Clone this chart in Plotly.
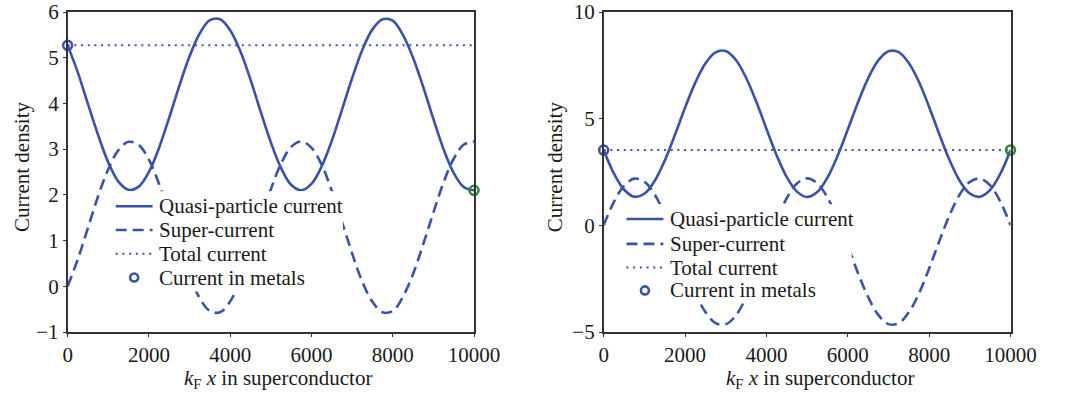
import plotly.graph_objects as go

# ---------------- data ----------------
x_pos = [0, 250, 500, 750, 1000, 1250, 1500, 1750, 2000, 2250, 2500, 2750, 3000,
         3250, 3500, 3750, 4000, 4250, 4500, 4750, 5000, 5250, 5500, 5750, 6000,
         6250, 6500, 6750, 7000, 7250, 7500, 7750, 8000, 8250, 8500, 8750, 9000,
         9250, 9500, 9750, 10000]

# left panel
quasi_left = [5.27, 4.68, 3.99, 3.31, 2.71, 2.29, 2.11, 2.18, 2.50, 3.03, 3.69,
              4.39, 5.03, 5.53, 5.82, 5.84, 5.60, 5.14, 4.52, 3.82, 3.15, 2.59,
              2.22, 2.10, 2.24, 2.62, 3.18, 3.86, 4.55, 5.17, 5.62, 5.84, 5.81,
              5.50, 5.00, 4.36, 3.66, 3.00, 2.48, 2.17, 2.10]
super_left = [0.00, 0.59, 1.28, 1.97, 2.56, 2.98, 3.16, 3.09, 2.77, 2.24, 1.58,
              0.88, 0.24, -0.26, -0.54, -0.57, -0.33, 0.13, 0.75, 1.45, 2.12,
              2.68, 3.05, 3.17, 3.03, 2.66, 2.09, 1.41, 0.72, 0.10, -0.34, -0.57,
              -0.54, -0.23, 0.27, 0.92, 1.61, 2.27, 2.79, 3.10, 3.17]
total_left = [5.27, 5.27]
metal_left = [5.27, 2.10]

# right panel
quasi_right = [3.53, 2.44, 1.68, 1.34, 1.48, 2.07, 3.03, 4.23, 5.51, 6.68, 7.59,
               8.11, 8.17, 7.75, 6.92, 5.80, 4.53, 3.29, 2.26, 1.58, 1.33, 1.56,
               2.24, 3.26, 4.49, 5.76, 6.89, 7.73, 8.16, 8.12, 7.61, 6.72, 5.55,
               4.27, 3.06, 2.09, 1.49, 1.34, 1.66, 2.42, 3.53]
super_right = [0.00, 1.09, 1.85, 2.19, 2.05, 1.46, 0.50, -0.70, -1.98, -3.15,
               -4.06, -4.58, -4.64, -4.22, -3.39, -2.27, -1.00, 0.24, 1.27, 1.96,
               2.20, 1.97, 1.30, 0.27, -0.96, -2.23, -3.36, -4.20, -4.63, -4.59,
               -4.08, -3.19, -2.02, -0.74, 0.47, 1.44, 2.04, 2.19, 1.87, 1.11, 0.00]
total_right = [3.53, 3.53]
metal_right = [3.53, 3.53]

total_x = [0, 10000]
metal_x = [0, 10000]

x_ticks = [0, 2000, 4000, 6000, 8000, 10000]
x_tick_text = ["0", "2000", "4000", "6000", "8000", "10000"]
y_ticks_left = [-1, 0, 1, 2, 3, 4, 5, 6]
y_ticks_right = [-5, 0, 5, 10]

names = ["Quasi-particle current", "Super-current", "Total current", "Current in metals"]
y_title = "Current density"
x_title = "<i>k</i><sub>F</sub> <i>x</i> in superconductor"

# ---------------- style ----------------
BLUE = "#3953a6"
GREEN = "#2f8a33"
FONT = "Liberation Serif"
FS = 21
TXT = "#1a1a1a"
AXC = "#333333"
W, H = 1071, 397
PT, PB = 9, 332          # plot area top / bottom (px)


def px_x(p):
    return p / W


def px_y(p):
    return (PB - p) / (PB - PT)


fig = go.Figure()

panels = [
    ("x", "y", quasi_left, super_left, total_left, metal_left),
    ("x2", "y2", quasi_right, super_right, total_right, metal_right),
]
for xa, ya, q, s, t, m in panels:
    fig.add_trace(go.Scatter(x=x_pos, y=q, mode="lines", name=names[0], xaxis=xa, yaxis=ya,
                             showlegend=False,
                             line=dict(color=BLUE, width=2.6, shape="spline")))
    fig.add_trace(go.Scatter(x=x_pos, y=s, mode="lines", name=names[1], xaxis=xa, yaxis=ya,
                             showlegend=False,
                             line=dict(color=BLUE, width=2.6, dash="11px,6px", shape="spline")))
    fig.add_trace(go.Scatter(x=total_x, y=t, mode="lines", name=names[2], xaxis=xa, yaxis=ya,
                             showlegend=False,
                             line=dict(color=BLUE, width=2, dash="2px,4.7px")))
    fig.add_trace(go.Scatter(x=metal_x, y=m, mode="markers", name=names[3], xaxis=xa, yaxis=ya,
                             showlegend=False, cliponaxis=False,
                             marker=dict(symbol="circle-open", size=9, color=[BLUE, GREEN],
                                         line=dict(width=2.6))))

axis_common = dict(
    showline=True, linecolor=AXC, linewidth=1.6, mirror=True,
    showgrid=False, zeroline=False, ticks="outside", ticklen=3, tickcolor=AXC,
    ticklabeloverflow="allow",
    tickfont=dict(family=FONT, size=FS, color=TXT),
)

shapes = []
annotations = []

# legends drawn per panel: white box, sample glyphs and labels
legend_boxes = [
    dict(box=(108, 190, 348, 291), rows=[205, 229, 253, 277], line=(114, 152), text_x=157),
    dict(box=(635, 203, 872, 303), rows=[218, 243, 267, 290], line=(640, 678), text_x=683),
]
line_dashes = ["solid", "11px,6px", "2px,4.7px"]
line_widths = [2.6, 2.6, 2]
for lg in legend_boxes:
    bx0, by0, bx1, by1 = lg["box"]
    shapes.append(dict(type="rect", xref="paper", yref="paper", layer="above",
                       x0=px_x(bx0), x1=px_x(bx1), y0=px_y(by1), y1=px_y(by0),
                       fillcolor="white", line=dict(width=0)))
    lx0, lx1 = lg["line"]
    for i in range(3):
        yy = px_y(lg["rows"][i])
        shapes.append(dict(type="line", xref="paper", yref="paper", layer="above",
                           x0=px_x(lx0), x1=px_x(lx1), y0=yy, y1=yy,
                           line=dict(color=BLUE, width=line_widths[i], dash=line_dashes[i])))
    shapes.append(dict(type="circle", xref="paper", yref="paper", layer="above",
                       xsizemode="pixel", ysizemode="pixel",
                       xanchor=px_x((lx0 + lx1) / 2), yanchor=px_y(lg["rows"][3]),
                       x0=-4, x1=4, y0=-4, y1=4,
                       line=dict(color=BLUE, width=2.6)))
    for i, nm in enumerate(names):
        annotations.append(dict(text=nm, xref="paper", yref="paper", showarrow=False,
                                x=px_x(lg["text_x"]), y=px_y(lg["rows"][i]),
                                xanchor="left", yanchor="middle",
                                font=dict(family=FONT, size=FS, color=TXT)))

# axis titles
for cx in (17, 566):
    annotations.append(dict(text=y_title, xref="paper", yref="paper", showarrow=False,
                            x=px_x(cx), y=px_y(165), xanchor="center", yanchor="middle",
                            textangle=-90, font=dict(family=FONT, size=FS, color=TXT)))
for cx in (281, 839):
    annotations.append(dict(text=x_title, xref="paper", yref="paper", showarrow=False,
                            x=px_x(cx), y=px_y(379), xanchor="center", yanchor="middle",
                            font=dict(family=FONT, size=FS, color=TXT)))

fig.update_layout(
    width=W, height=H,
    margin=dict(l=0, r=0, t=PT, b=H - PB),
    paper_bgcolor="white", plot_bgcolor="white",
    font=dict(family=FONT, size=FS, color=TXT),
    showlegend=False,
    xaxis=dict(domain=[64.5 / W, 483 / W], range=[0, 10000], tickvals=x_ticks,
               ticktext=x_tick_text, anchor="y", **axis_common),
    yaxis=dict(range=[-1, 6], tickvals=y_ticks_left, anchor="x", **axis_common),
    xaxis2=dict(domain=[616.5 / W, 1035.5 / W], range=[0, 10000], tickvals=x_ticks,
                ticktext=x_tick_text, anchor="y2", **axis_common),
    yaxis2=dict(range=[-5, 10], tickvals=y_ticks_right, anchor="x2", **axis_common),
    shapes=shapes,
    annotations=annotations,
)

fig.write_html("out.html")
